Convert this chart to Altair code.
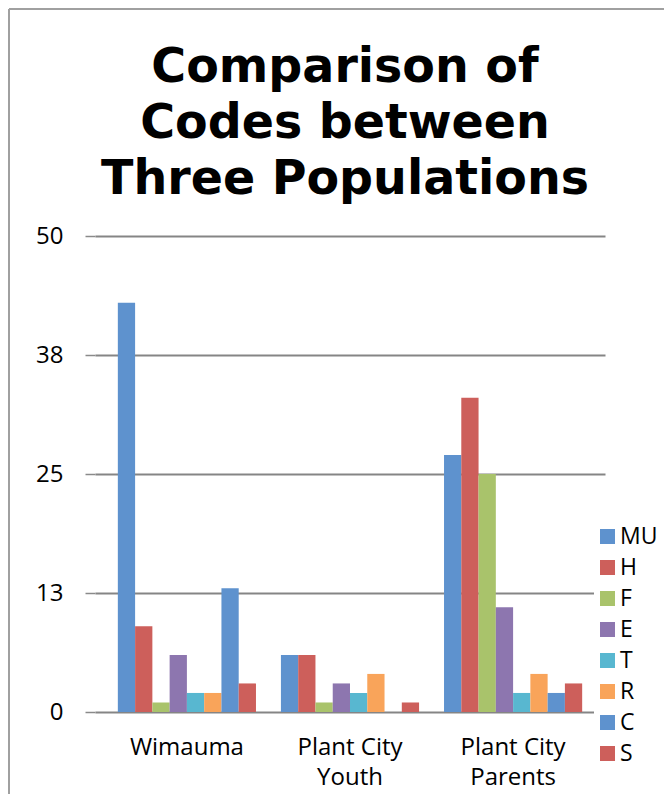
import altair as alt
import pandas as pd

groups = ["Wimauma", "Plant City Youth", "Plant City Parents"]
codes = ["MU", "H", "F", "E", "T", "R", "C", "S"]
wimauma = [43, 9, 1, 6, 2, 2, 13, 3]
youth = [6, 6, 1, 3, 2, 4, 0, 1]
parents = [27, 33, 25, 11, 2, 4, 2, 3]
colors = ["#5E92CE", "#CD5F5B", "#A9C36B", "#8D76AF", "#58B7D0", "#F9A45A", "#5E92CE", "#CD5F5B"]
y_ticks = [0, 12.5, 25, 37.5, 50]

rows = []
for g, vals in zip(groups, [wimauma, youth, parents]):
    for c, v in zip(codes, vals):
        rows.append({"group": g, "code": c, "value": v})
df = pd.DataFrame(rows)

PW, PH = 510, 476

bars = alt.Chart(df).mark_bar().encode(
    x=alt.X("group:N", sort=groups, title=None,
            scale=alt.Scale(paddingInner=0.153, paddingOuter=0.14),
            axis=alt.Axis(domain=False, ticks=False, labelAngle=0,
                          labelFont="Open Sans", labelFontSize=24, labelColor="#000",
                          labelPadding=23, labelLineHeight=30, labelBaseline="top",
                          labelExpr="datum.value == 'Wimauma' ? 'Wimauma' : ['Plant City', replace(datum.value, 'Plant City ', '')]")),
    xOffset=alt.XOffset("code:N", sort=codes, scale=alt.Scale(paddingInner=0, paddingOuter=0)),
    y=alt.Y("value:Q", title=None,
            scale=alt.Scale(domain=[0, 50], nice=False, zero=True),
            axis=alt.Axis(values=y_ticks, labelExpr="round(datum.value)",
                          domain=False, ticks=True, tickSize=10, tickColor="#8a8a8a", tickWidth=1.5,
                          grid=True, gridColor="#858585", gridWidth=1.8,
                          labelFont="Open Sans", labelFontSize=24, labelColor="#000",
                          labelPadding=22)),
    color=alt.Color("code:N", sort=codes,
                    scale=alt.Scale(domain=codes, range=colors),
                    legend=alt.Legend(title=None, orient="none", legendX=PW - 11, legendY=287,
                                      symbolType="square", symbolSize=225, symbolStrokeWidth=0,
                                      labelFont="Open Sans", labelFontSize=23, labelColor="#000",
                                      labelOffset=1, rowPadding=7, fillColor="white", padding=2)),
)

frame_df = pd.DataFrame({"k": [0]})
left_line = alt.Chart(frame_df).mark_rule(color="#a0a0a0", strokeWidth=2).encode(
    x=alt.value(-86), y=alt.value(-227), y2=alt.value(PH + 90))
top_line = alt.Chart(frame_df).mark_rule(color="#a0a0a0", strokeWidth=2).encode(
    x=alt.value(-86), x2=alt.value(PW + 80), y=alt.value(-227))

chart = alt.layer(bars, left_line, top_line).properties(
    width=PW, height=PH,
    padding={"left": 87, "top": 228, "right": 59, "bottom": 82},
    autosize=alt.AutoSizeParams(type="none"),
    title=alt.Title(["Comparison of", "Codes between", "Three Populations"],
                    font="DejaVu Sans", fontWeight="bold", fontSize=47.5, lineHeight=56,
                    color="#000", anchor="middle", frame="group", offset=-195, dx=-5),
).configure_view(stroke=None)

chart.save("out.html", embed_options={"renderer": "svg", "actions": False})
